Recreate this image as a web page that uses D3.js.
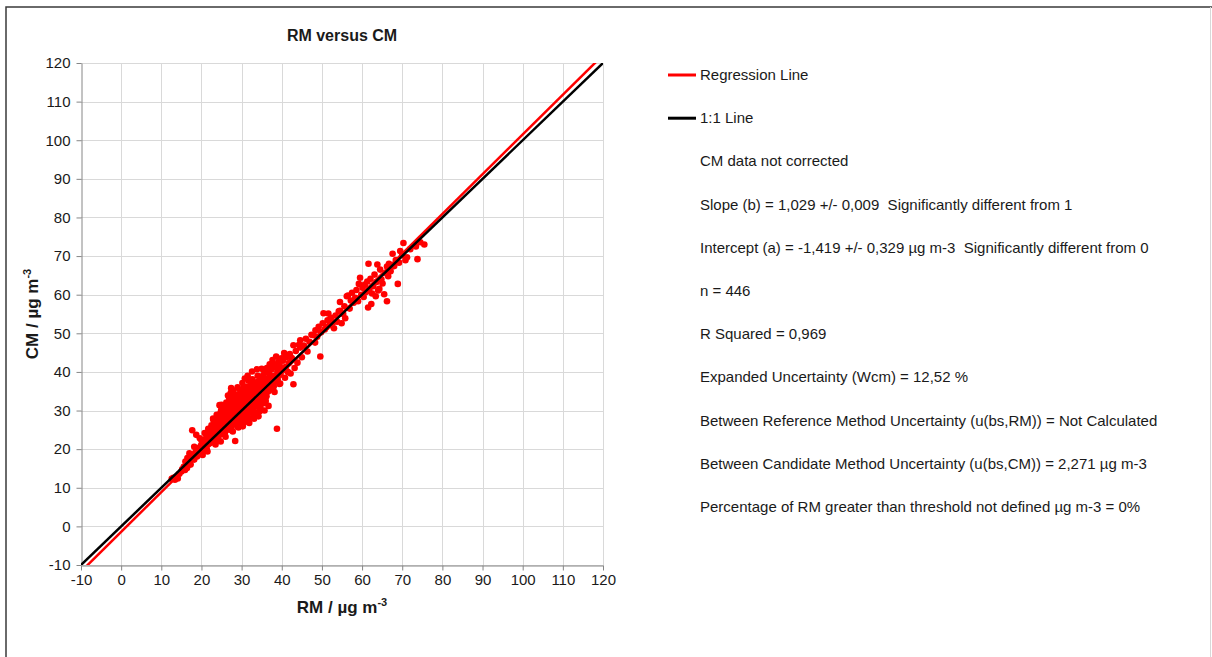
<!DOCTYPE html>
<html>
<head>
<meta charset="utf-8">
<script src="https://d3js.org/d3.v7.min.js"></script>
<style>
  body { margin: 0; background: #fff; }
  text { font-family: "Liberation Sans", Arial, sans-serif; fill: #1a1a1a; }
</style>
</head>
<body>
<script>
// scatter values: [RM, CM] in µg m-3
const observations = [
  [12.6,12.3],[13.0,12.6],[13.4,12.1],[13.8,12.9],[14.1,12.4],[14.5,13.6],[15.2,14.8],[15.6,15.4],[15.9,14.6],[16.2,15.9],
  [16.4,15.1],[16.8,16.3],[17.1,17.2],[17.3,16.0],[17.6,17.8],[17.9,18.4],[18.2,17.3],[17.7,24.9],[18.7,23.7],[18.4,18.9],
  [15.0,14.2],[16.0,16.8],
  [18.6,19.4],[18.9,18.1],[19.1,19.9],[19.3,18.6],[19.5,20.4],[19.7,19.1],[19.9,21.0],[20.1,19.6],[20.2,20.8],[20.4,21.6],
  [20.5,19.9],[20.7,22.1],[20.9,20.6],[21.0,21.7],[21.2,23.0],[21.3,20.1],[21.5,22.4],[21.6,21.2],[21.8,23.5],[21.9,22.0],
  [22.0,24.1],[22.1,21.5],[19.0,20.2],[19.8,20.0],[20.6,20.9],[21.4,22.8],[22.2,22.9],[18.8,18.5],[20.0,22.3],[21.1,19.8],
  [22.3,23.6],[22.4,22.2],[22.5,24.6],[22.6,21.8],[22.7,23.9],[22.8,25.2],[22.9,22.6],[23.0,24.3],[23.1,26.0],[23.2,23.1],
  [23.3,24.9],[23.4,22.4],[23.5,25.7],[23.6,24.0],[23.7,26.6],[23.8,23.3],[23.9,25.1],[24.0,27.2],[24.1,24.6],[24.2,22.9],
  [24.3,26.1],[24.4,25.4],[24.5,28.4],[24.6,23.8],[24.7,29.3],[24.8,25.9],[24.9,27.0],[25.0,24.4],[25.1,26.5],[25.2,28.1],
  [25.3,25.0],[25.4,27.6],[25.5,23.9],[25.6,26.9],[25.7,29.6],[25.8,25.6],[25.9,28.0],[26.0,26.3],[24.9,30.1],[26.1,30.2],
  [22.5,26.2],[23.0,27.5],[24.2,28.6],[25.8,24.1],[26.0,27.4],
  [26.1,24.8],[26.2,28.7],[26.3,26.0],[26.4,30.0],[26.5,27.3],[26.6,25.3],[26.7,29.0],[26.8,27.8],[26.9,31.2],[27.0,26.4],
  [27.1,28.9],[27.2,30.5],[27.3,27.0],[27.4,25.8],[27.5,29.4],[27.6,32.0],[27.7,28.2],[27.8,26.7],[27.9,30.8],[28.0,29.1],
  [28.1,27.5],[28.2,33.0],[28.3,31.0],[28.4,22.1],[28.5,28.6],[28.6,30.2],[28.7,26.9],[28.8,32.4],[28.9,29.5],[29.0,27.9],
  [29.1,31.6],[29.2,29.9],[29.3,33.5],[29.4,28.4],[29.5,30.6],[29.6,26.5],[29.7,32.1],[29.8,29.2],[29.9,31.0],[30.0,27.6],
  [26.5,31.6],[27.2,25.0],[27.9,33.6],[28.4,30.0],[28.9,25.9],[29.5,34.3],[30.0,33.0],[26.8,28.3],[27.6,29.8],[28.2,28.8],
  [29.0,30.7],[29.8,28.0],[27.0,32.6],[28.6,34.0],[29.3,27.3],
  [25.4,30.8],[26.2,32.1],[27.3,34.6],[28.0,35.2],[29.0,36.0],[30.2,37.1],[27.8,24.6],[29.2,25.6],[30.6,26.9],[31.8,28.0],
  [26.9,33.3],[28.5,31.8],[29.6,35.4],[30.8,38.3],[31.5,39.0],[32.6,40.1],[33.8,40.7],[25.0,31.5],[26.6,33.9],[27.4,35.8],
  [30.3,25.9],[31.9,26.8],[33.1,27.9],[34.2,28.5],[35.7,30.0],[36.7,31.2],[22.9,27.9],[23.8,28.9],[24.5,31.4],[21.7,25.3],
  [20.8,24.2],[19.6,22.8],[18.2,20.6],[20.3,18.5],[21.5,19.4],[23.5,21.2],[24.8,22.0],[26.0,23.2],[17.0,18.9],[16.5,17.7],
  [30.1,30.3],[30.2,32.5],[30.3,28.9],[30.4,34.8],[30.5,31.4],[30.6,29.6],[30.7,33.3],[30.8,35.5],[30.9,30.8],[31.0,28.3],
  [31.1,32.2],[31.2,34.4],[31.3,30.0],[31.4,36.2],[31.5,31.8],[31.6,29.2],[31.7,37.8],[31.8,33.6],[31.9,31.1],[32.0,35.0],
  [32.1,30.5],[32.2,32.9],[32.3,36.6],[32.4,29.8],[32.5,34.0],[32.6,31.5],[32.7,38.1],[32.8,33.2],[32.9,30.6],[33.0,35.9],
  [33.1,32.3],[33.2,34.7],[33.3,37.0],[33.4,31.0],[33.5,33.8],[33.6,36.3],[33.7,32.0],[33.8,29.5],[33.9,35.2],[34.0,33.1],
  [34.1,37.5],[34.2,31.7],[34.3,34.5],[34.4,36.8],[34.5,32.6],[34.6,35.6],[34.7,30.7],[34.8,38.4],[34.9,34.0],[35.0,36.1],
  [30.5,36.0],[31.2,27.7],[32.0,38.0],[33.0,28.8],[34.0,39.0],[30.9,33.9],[31.6,35.3],[32.5,30.1],[33.4,35.5],[34.5,29.8],
  [35.1,33.3],[35.2,37.4],[35.3,35.0],[35.4,39.2],[35.5,31.9],[35.6,36.6],[35.7,34.2],[35.8,40.0],[35.9,36.0],[36.0,38.2],
  [36.2,33.7],[36.3,41.0],[36.4,35.8],[36.5,37.9],[36.6,34.9],[36.8,39.6],[36.9,36.7],[37.0,42.0],[37.1,38.4],[37.2,35.4],
  [37.4,40.6],[37.5,37.2],[37.7,43.1],[37.9,42.1],[38.0,36.2],[38.1,39.0],[38.3,41.3],[38.4,37.5],[38.6,44.0],[38.8,25.3],
  [38.9,40.1],[39.0,38.0],[39.2,42.6],[39.4,36.9],[39.5,41.5],[39.7,39.3],[39.9,43.5],[35.0,40.8],[36.0,32.5],[37.3,36.3],
  [38.2,34.8],[39.6,37.0],
  [40.1,40.4],[40.3,42.9],[40.6,44.9],[40.8,38.5],[41.0,41.3],[41.2,43.8],[41.5,40.0],[41.8,42.3],[42.0,44.6],[42.2,39.6],
  [42.5,43.6],[42.9,46.9],[42.9,36.8],[43.2,41.0],[43.5,45.4],[43.9,42.4],[44.3,47.0],[44.6,48.2],[44.6,46.3],[45.0,43.8],
  [45.5,46.8],[46.0,48.6],[46.4,45.3],[46.9,47.8],[47.4,49.6],[47.9,49.5],[48.3,47.6],
  [48.4,50.8],[48.8,49.1],[49.2,51.7],[49.6,44.0],[49.8,50.3],[50.2,52.6],[50.4,55.2],[50.7,51.0],[51.1,51.6],[51.4,53.4],
  [51.6,55.1],[51.9,52.1],[52.3,54.0],[52.7,52.8],[53.0,51.3],[53.4,54.6],[53.8,53.0],[54.2,55.7],[54.5,58.1],[54.5,55.8],
  [54.9,52.6],[55.3,55.0],[55.6,57.0],[55.8,53.9],[56.2,59.6],[56.5,59.8],[56.9,56.4],[57.2,58.5],
  [57.5,60.5],[57.9,57.9],[58.3,59.2],[58.6,61.2],[59.0,58.3],[59.2,62.8],[59.5,64.4],[59.8,60.0],[60.1,61.8],[60.4,59.4],
  [60.7,62.6],[61.0,60.7],[61.3,63.4],[61.5,56.7],[61.6,68.0],[61.8,61.4],[62.1,64.1],[62.3,57.6],[62.5,60.3],[62.8,62.2],
  [63.1,65.2],[63.4,59.6],[63.6,63.3],[63.8,67.8],[64.0,61.1],[64.3,61.5],[64.5,66.5],[64.8,64.0],[65.1,62.9],[65.5,60.1],
  [65.8,65.6],[66.2,67.3],[66.2,58.3],[66.5,64.8],[66.7,68.0],[67.1,66.1],[67.6,70.6],[68.0,67.4],[68.4,69.0],[68.9,62.8],
  [69.2,68.3],[69.5,71.3],[70.0,70.2],[70.3,73.4],[70.8,68.9],[71.2,69.7],[72.0,71.8],[73.4,72.5],[73.8,69.2],[75.5,73.0],
  [74.5,73.6]
];

const regSlope = 1.029;
const regIntercept = -1.419;
const axisTicks = [-10, 0, 10, 20, 30, 40, 50, 60, 70, 80, 90, 100, 110, 120];

const legendItems = [
  { label: "Regression Line", color: "#ff0000" },
  { label: "1:1 Line", color: "#000000" }
];
const statLines = [
  "CM data not corrected",
  "Slope (b) = 1,029 +/- 0,009  Significantly different from 1",
  "Intercept (a) = -1,419 +/- 0,329 µg m-3  Significantly different from 0",
  "n = 446",
  "R Squared = 0,969",
  "Expanded Uncertainty (Wcm) = 12,52 %",
  "Between Reference Method Uncertainty (u(bs,RM)) = Not Calculated",
  "Between Candidate Method Uncertainty (u(bs,CM)) = 2,271 µg m-3",
  "Percentage of RM greater than threshold not defined µg m-3 = 0%"
];

const W = 1212, H = 657;
const plot = { left: 81, right: 603, top: 63, bottom: 565 };

const svg = d3.select("body").append("svg")
  .attr("width", W)
  .attr("height", H);

// outer frame
svg.append("path")
  .attr("d", `M6,657 L6,7 L1212,7`)
  .attr("fill", "none")
  .attr("stroke", "#3a3a3a")
  .attr("stroke-width", 1.5);
svg.append("line")
  .attr("x1", 1210.5).attr("x2", 1210.5).attr("y1", 7).attr("y2", H)
  .attr("stroke", "#d8d8d8");

const x = d3.scaleLinear().domain([-10, 120]).range([plot.left, plot.right]);
const y = d3.scaleLinear().domain([-10, 120]).range([plot.bottom, plot.top]);

// grid
const grid = svg.append("g").attr("stroke", "#d9d9d9").attr("stroke-width", 1);
grid.selectAll("line.v").data(axisTicks.slice(1)).join("line")
  .attr("class", "v")
  .attr("x1", d => Math.round(x(d)) + 0.5).attr("x2", d => Math.round(x(d)) + 0.5)
  .attr("y1", plot.top).attr("y2", plot.bottom);
grid.selectAll("line.h").data(axisTicks.slice(0, -1)).join("line")
  .attr("class", "h")
  .attr("y1", d => Math.round(y(d)) + 0.5).attr("y2", d => Math.round(y(d)) + 0.5)
  .attr("x1", plot.left).attr("x2", plot.right);
grid.append("line")
  .attr("x1", plot.left).attr("x2", plot.right)
  .attr("y1", plot.top + 0.5).attr("y2", plot.top + 0.5);

// axes (plain hyphen for negatives, as in the original)
const fmt = d => String(d);
const xAxis = svg.append("g")
  .attr("transform", `translate(0,${plot.bottom + 0.5})`)
  .call(d3.axisBottom(x).tickValues(axisTicks).tickFormat(fmt).tickSize(5).tickSizeOuter(0).tickPadding(4));
const yAxis = svg.append("g")
  .attr("transform", `translate(${plot.left + 0.5},0)`)
  .call(d3.axisLeft(y).tickValues(axisTicks).tickFormat(fmt).tickSize(5).tickSizeOuter(0).tickPadding(6));
[xAxis, yAxis].forEach(a => {
  a.select(".domain").attr("stroke", "#868686");
  a.selectAll(".tick line").attr("stroke", "#868686");
  a.selectAll(".tick text")
    .attr("font-size", 15)
    .attr("font-family", "'Liberation Sans', Arial, sans-serif")
    .attr("fill", "#1a1a1a");
});

// clip for lines
svg.append("clipPath").attr("id", "plotClip")
  .append("rect")
  .attr("x", plot.left).attr("y", plot.top)
  .attr("width", plot.right - plot.left).attr("height", plot.bottom - plot.top);

// points
svg.append("g")
  .selectAll("circle")
  .data(observations)
  .join("circle")
  .attr("cx", d => x(d[0]))
  .attr("cy", d => y(d[1]))
  .attr("r", 3.3)
  .attr("fill", "#ff0000");

// regression and 1:1 lines
const lineGen = d3.line().x(d => x(d[0])).y(d => y(d[1]));
const regLine = [-20, 130].map(v => [v, regSlope * v + regIntercept]);
const oneLine = [-20, 130].map(v => [v, v]);
const lines = svg.append("g").attr("clip-path", "url(#plotClip)");
lines.append("path").attr("d", lineGen(regLine))
  .attr("stroke", "#ff0000").attr("stroke-width", 2.5).attr("fill", "none");
lines.append("path").attr("d", lineGen(oneLine))
  .attr("stroke", "#000").attr("stroke-width", 2.5).attr("fill", "none");

// titles
svg.append("text")
  .attr("x", (plot.left + plot.right) / 2).attr("y", 41)
  .attr("text-anchor", "middle")
  .attr("font-size", 16).attr("font-weight", "bold")
  .text("RM versus CM");

const xTitle = svg.append("text")
  .attr("x", (plot.left + plot.right) / 2).attr("y", 613)
  .attr("text-anchor", "middle")
  .attr("font-size", 17).attr("font-weight", "bold");
xTitle.append("tspan").text("RM / µg m");
xTitle.append("tspan").attr("dy", -7).attr("font-size", 11).text("-3");

const yTitle = svg.append("text")
  .attr("transform", `translate(38,${(plot.top + plot.bottom) / 2}) rotate(-90)`)
  .attr("text-anchor", "middle")
  .attr("font-size", 17).attr("font-weight", "bold");
yTitle.append("tspan").text("CM / µg m");
yTitle.append("tspan").attr("dy", -7).attr("font-size", 11).text("-3");

// legend and statistics
const rowY = i => 75 + i * 43.2;
const legend = svg.append("g");
legendItems.forEach((item, i) => {
  legend.append("line")
    .attr("x1", 668).attr("x2", 696)
    .attr("y1", rowY(i)).attr("y2", rowY(i))
    .attr("stroke", item.color).attr("stroke-width", 3);
  legend.append("text")
    .attr("x", 700).attr("y", rowY(i) + 5)
    .attr("font-size", 15)
    .text(item.label);
});
statLines.forEach((line, i) => {
  legend.append("text")
    .attr("x", 700).attr("y", rowY(i + 2) + 5)
    .attr("font-size", 15)
    .style("white-space", "pre")
    .text(line);
});
</script>
</body>
</html>
